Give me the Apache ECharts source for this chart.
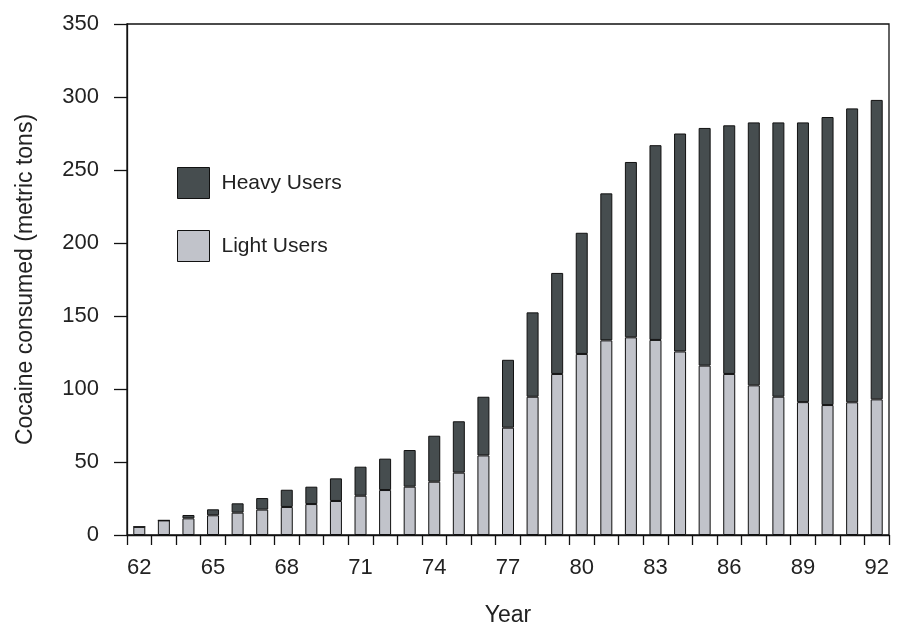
<!DOCTYPE html>
<html>
<head>
<meta charset="utf-8">
<script src="https://cdn.jsdelivr.net/npm/echarts@6/dist/echarts.min.js"></script>
<style>
html,body{margin:0;padding:0;background:#fff;overflow:hidden;}
#chart{width:898px;height:628px;}
</style>
</head>
<body>
<div id="chart"></div>
<script>
const years = ['62','63','64','65','66','67','68','69','70','71','72','73','74','75','76','77','78','79','80','81','82','83','84','85','86','87','88','89','90','91','92'];
const lightUsers = [5.6,10,11.4,13.5,15.3,17.4,19.2,21.2,23.3,26.9,30.8,33.1,36.5,42.7,54.5,73.5,94.7,110.3,124,133.3,135.4,133.6,125.7,116,110.3,102.5,94.7,91,89,90.9,92.9];
const heavyUsers = [0,0,2.3,4.1,6.4,7.9,11.8,11.9,15.5,19.9,21.5,25.1,31.5,35.2,40.2,46.5,57.8,69.2,83,100.7,120.1,133.4,149.3,162.8,170.3,180.1,187.9,191.6,197.3,201.3,205.1];
const yTicks = [0,50,100,150,200,250,300,350];

const FONT = '"Liberation Sans", Arial, Helvetica, sans-serif';
const TXT = '#222';
const chart = echarts.init(document.getElementById('chart'));
chart.setOption({
  animation: false,
  backgroundColor: '#fff',
  grid: {left: 127, right: 9, top: 24, bottom: 93, outerBoundsMode: 'none', containLabel: false,
         show: true, borderColor: '#111', borderWidth: 1.3, backgroundColor: 'transparent'},
  legend: {
    data: ['Heavy Users', 'Light Users'],
    orient: 'vertical', left: 172, top: 162,
    itemWidth: 32, itemHeight: 31, itemGap: 31,
    icon: 'rect',
    textStyle: {fontFamily: FONT, fontSize: 21, color: TXT, padding: [0,0,0,7]},
    itemStyle: {borderColor: '#111', borderWidth: 1}
  },
  xAxis: {
    type: 'category', data: years, boundaryGap: true,
    name: 'Year', nameLocation: 'middle', nameGap: 69,
    nameTextStyle: {fontFamily: FONT, fontSize: 23, color: TXT},
    axisLine: {lineStyle: {color: '#111', width: 1.3}},
    axisTick: {show: true, interval: 0, length: 10, lineStyle: {color: '#111', width: 1.3}},
    axisLabel: {interval: 2, margin: 22, fontFamily: FONT, fontSize: 22, color: TXT}
  },
  yAxis: {
    type: 'value', min: yTicks[0], max: yTicks[yTicks.length-1], interval: 50,
    name: 'Cocaine consumed (metric tons)', nameLocation: 'middle', nameGap: 90,
    nameTextStyle: {fontFamily: FONT, fontSize: 23, color: TXT},
    axisLine: {show: true, lineStyle: {color: '#111', width: 1.3}},
    axisTick: {show: true, length: 13, lineStyle: {color: '#111', width: 1.3}},
    axisLabel: {margin: 28, fontFamily: FONT, fontSize: 22, color: TXT},
    splitLine: {show: false}
  },
  series: [
    {name: 'Light Users', type: 'bar', stack: 'total', data: lightUsers, barWidth: 12,
     itemStyle: {color: '#c1c3ca', borderColor: '#111', borderWidth: 1}},
    {name: 'Heavy Users', type: 'bar', stack: 'total', data: heavyUsers, barWidth: 12,
     itemStyle: {color: '#464d4f', borderColor: '#111', borderWidth: 1}}
  ]
});
</script>
</body>
</html>
